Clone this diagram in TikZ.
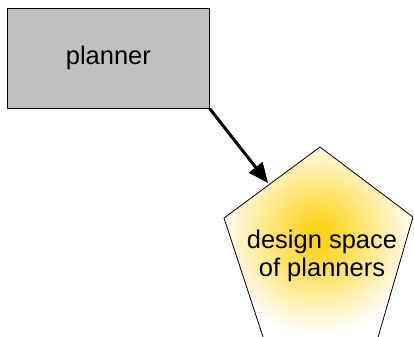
\documentclass[tikz,border=0pt]{standalone}
\usepackage{fontspec}
\setmainfont{Liberation Sans}
\usetikzlibrary{arrows.meta}
\definecolor{boxgray}{RGB}{192,192,192}
\definecolor{glowgold}{RGB}{255,212,30}
\pgfdeclareradialshading{goldglow}{\pgfpoint{0bp}{0bp}}{color(0bp)=(glowgold); color(3bp)=(glowgold); color(14bp)=(glowgold!50!white); color(25bp)=(white); color(50bp)=(white)}
\tikzset{
  box/.style={draw=black, line width=0.8bp, fill=boxgray},
  lbl/.style={font=\fontsize{25.5bp}{28.5bp}\selectfont, align=center, text=black, inner sep=0pt},
  conn/.style={line width=3bp, -{Triangle[length=20bp,width=17bp]}},
}
\begin{document}
\begin{tikzpicture}[x=1bp,y=-1bp]
\useasboundingbox (0,0) rectangle (414,337);
\clip (0,0) rectangle (414,337);
\fill[white] (0,0) rectangle (414,337);
% pentagon
\coordinate (pt) at (320,147);
\coordinate (pr) at (413,217);
\coordinate (pbr) at (375.5,346);
\coordinate (pbl) at (266,346);
\coordinate (pl) at (224,218);
\begin{scope}
  \clip (pt) -- (pr) -- (pbr) -- (pbl) -- (pl) -- cycle;
  \shade[shading=goldglow] (318,235) circle (100);
\end{scope}
\draw[line width=0.8bp, line join=miter] (pt) -- (pr) -- (pbr) -- (pbl) -- (pl) -- cycle;
\node[lbl] (ds) at (322,256) {design space\\of planners};
% rectangle
\node[box, minimum width=202bp, minimum height=100bp, inner sep=0pt, anchor=north west] (pl1) at (7,8) {};
\node[lbl] (plt) at (pl1.center) {planner};
\coordinate (tip) at (268,183);
\draw[conn] (pl1.south east) -- (tip);
\end{tikzpicture}
\end{document}
